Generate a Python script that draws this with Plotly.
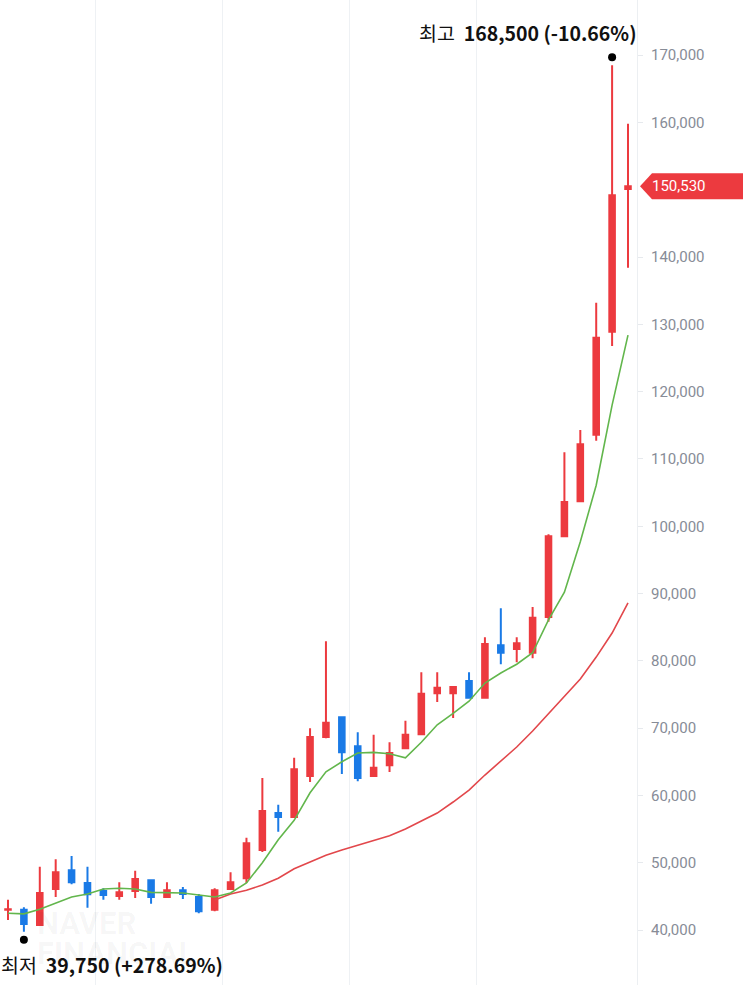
import plotly.graph_objects as go

# ---- data ----
idx = list(range(40))
opens = [43000, 43000, 40750, 46100, 48900, 47000, 45800, 45050, 45800, 47400,
         44900, 45900, 44900, 43000, 46100, 47700, 51900, 57400, 56800, 62900,
         68700, 71600, 67300, 62900, 64500, 67000, 69100, 75200, 75200, 77000,
         74500, 82300, 81750, 81200, 86500, 98500, 103700, 113600, 128900, 150100]
highs = [44500, 43400, 49400, 50500, 51000, 49400, 46200, 47100, 48800, 47500,
         47100, 46400, 45350, 46200, 48600, 53700, 62600, 58600, 65600, 70000,
         82900, 71700, 69400, 69000, 67900, 71100, 78300, 78300, 76200, 78300,
         83500, 87800, 83500, 88000, 98800, 111000, 114300, 133200, 168500, 159800]
lows = [41500, 39750, 40600, 44900, 46800, 43300, 44500, 44500, 44750, 43900,
        44800, 44600, 42500, 42800, 46000, 47000, 51600, 54600, 56700, 62000,
        68500, 63200, 62100, 62800, 63500, 67000, 69000, 73900, 71500, 74400,
        74400, 79500, 79800, 80400, 85800, 98400, 103600, 112700, 126800, 138400]
closes = [43100, 40900, 45500, 48600, 47100, 45300, 45200, 45600, 47600, 44900,
          45900, 45350, 42800, 45900, 47100, 52900, 57700, 56800, 63900, 68700,
          70800, 66400, 62600, 64100, 66300, 69000, 75100, 76000, 76100, 74500,
          82500, 81200, 82600, 86400, 98500, 103600, 112200, 128000, 149200, 150530]
ma_short = [42500, 42400, 43100, 44000, 44900, 45350, 46100, 46200, 46100, 45600,
            45600, 45500, 45200, 44900, 45500, 47000, 50000, 53400, 56300, 60400,
            63500, 65000, 66300, 66400, 66200, 65600, 67900, 70500, 72200, 74000,
            76700, 78200, 79500, 81200, 86100, 90200, 97700, 106100, 118000, 128400]
ma_long = [None] * 13 + [44460, 45350, 45900, 46700, 47700, 49100, 50100,
                         51100, 51900, 52600, 53200, 54000, 55000, 56200, 57380, 59020, 60800,
                         63030, 65110, 67190, 69570, 72100, 74620, 77300, 80560, 84130, 88600]
# 150,000 is hidden behind the current-price tag in the reference
ytick_vals = [40000, 50000, 60000, 70000, 80000, 90000, 100000, 110000,
              120000, 130000, 140000, 160000, 170000]
ytick_text = [f"{v:,}" for v in ytick_vals]
grid_x = [5.5, 13.5, 21.5, 29.5]
high_label = "최고&nbsp;&nbsp;<b>168,500 (-10.66%)</b>"
low_label = "최저&nbsp;&nbsp;<b>39,750 (+278.69%)</b>"

RED = "#ec3a3f"
BLUE = "#1a7ae6"
GREEN = "#62b64c"
MA_RED = "#e2474b"

fig = go.Figure()
fig.add_trace(go.Candlestick(
    x=idx, open=opens, high=highs, low=lows, close=closes,
    increasing=dict(line=dict(color=RED, width=2), fillcolor=RED),
    decreasing=dict(line=dict(color=BLUE, width=2), fillcolor=BLUE),
    whiskerwidth=0, hoverinfo="skip", showlegend=False,
))
fig.add_trace(go.Scatter(x=idx, y=ma_long, mode="lines",
                         line=dict(color=MA_RED, width=1.6), showlegend=False,
                         hoverinfo="skip"))
fig.add_trace(go.Scatter(x=idx, y=ma_short, mode="lines",
                         line=dict(color=GREEN, width=1.6), showlegend=False,
                         hoverinfo="skip"))

hi_i = highs.index(max(highs))
lo_i = lows.index(min(lows))
last = closes[-1]

shapes = [
    dict(type="circle", xref="x", yref="y", xsizemode="pixel", ysizemode="pixel",
         xanchor=hi_i, yanchor=highs[hi_i], x0=-4, x1=4, y0=4, y1=12,
         fillcolor="black", line=dict(width=0), layer="above"),
    dict(type="circle", xref="x", yref="y", xsizemode="pixel", ysizemode="pixel",
         xanchor=lo_i, yanchor=lows[lo_i], x0=-4, x1=4, y0=-12, y1=-4,
         fillcolor="black", line=dict(width=0), layer="above"),
    dict(type="path", xref="paper", yref="y", xsizemode="pixel", ysizemode="pixel",
         xanchor=1, yanchor=last,
         path="M 3,0 L 15,13 L 120,13 L 120,-13 L 15,-13 Z",
         fillcolor=RED, line=dict(width=0), layer="above"),
]

annotations = [
    dict(xref="paper", x=1, xanchor="right", xshift=2, yref="y", y=highs[hi_i],
         yshift=33, yanchor="middle", text=high_label, showarrow=False,
         font=dict(family="Noto Sans CJK KR", size=19.5, color="#111111")),
    dict(xref="paper", x=0, xanchor="left", xshift=-1, yref="y", y=lows[lo_i],
         yshift=-33, yanchor="middle", text=low_label, showarrow=False,
         font=dict(family="Noto Sans CJK KR", size=19.5, color="#111111")),
    dict(xref="paper", x=1, xanchor="left", xshift=13, yref="y", y=last,
         yanchor="middle", text=f"{last:,}", showarrow=False,
         font=dict(family="Roboto", size=15, color="white")),
    dict(xref="paper", x=0.055, xanchor="left", yref="paper", y=0.062,
         yanchor="middle", text="<b>NAVER</b>", showarrow=False,
         font=dict(family="Roboto", size=31, color="rgba(0,0,0,0.04)")),
    dict(xref="paper", x=0.055, xanchor="left", yref="paper", y=0.032,
         yanchor="middle", text="<b>FINANCIAL</b>", showarrow=False,
         font=dict(family="Roboto", size=31, color="rgba(0,0,0,0.04)")),
]

fig.update_layout(
    width=743, height=985,
    margin=dict(l=0, r=106, t=0, b=0),
    paper_bgcolor="white", plot_bgcolor="white",
    boxgap=0.5,
    showlegend=False,
    shapes=shapes, annotations=annotations,
    xaxis=dict(range=[-0.503, 39.566], showgrid=True, gridcolor="#eef1f4",
               gridwidth=1, tickvals=grid_x, showticklabels=False, ticks="",
               zeroline=False, showline=False, rangeslider=dict(visible=False),
               fixedrange=True),
    yaxis=dict(side="right", range=[31830, 178200], tickvals=ytick_vals,
               ticktext=ytick_text, showgrid=False, ticks="outside", ticklen=5,
               ticklabelstandoff=5,
               tickcolor="#e6e9ed", showline=True, linecolor="#eceff2",
               tickfont=dict(family="Roboto", size=15, color="#878c97"),
               zeroline=False, fixedrange=True),
)

fig.write_html("out.html")
